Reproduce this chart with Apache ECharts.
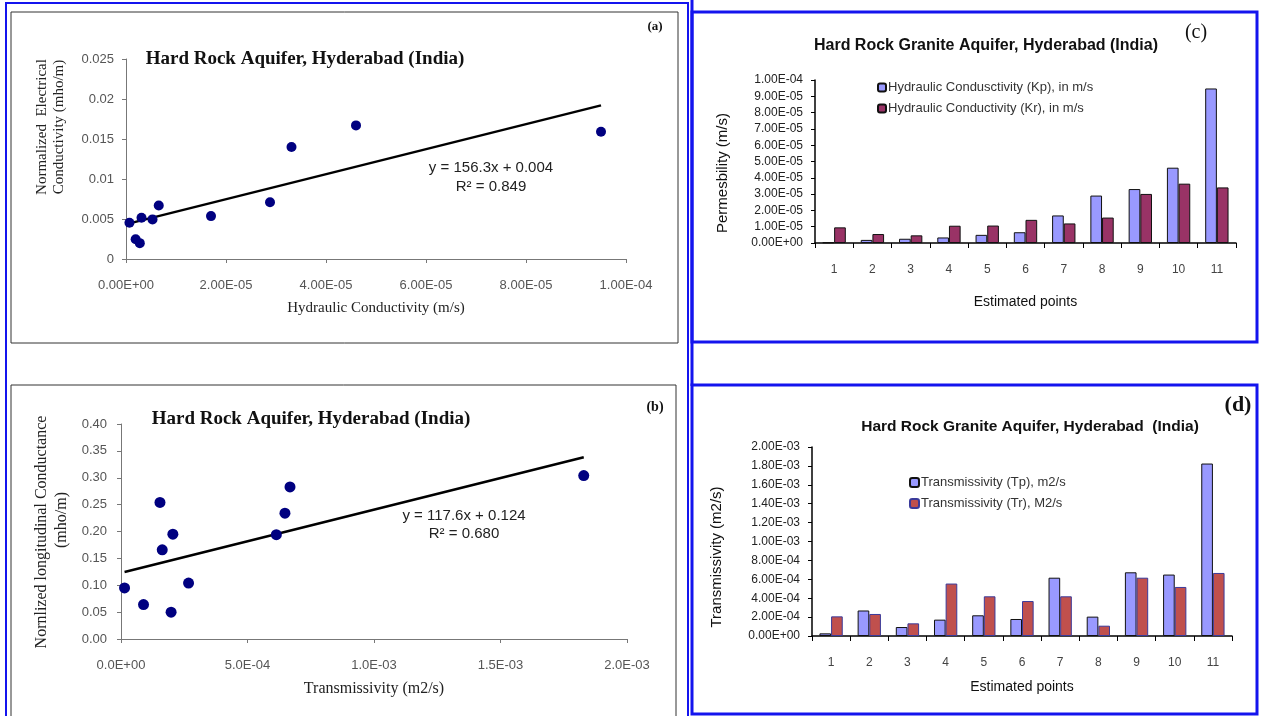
<!DOCTYPE html>
<html>
<head>
<meta charset="utf-8">
<title>Hard Rock Aquifer, Hyderabad (India)</title>
<script src="https://cdn.jsdelivr.net/npm/echarts@6/dist/echarts.min.js"></script>
<style>
    html, body { margin: 0; padding: 0; background: #fff; }
    #chart { width: 1261px; height: 716px; }
</style>
</head>
<body>
<div id="chart"></div>
<script>
// ============================================
// 数据 (a) 水力传导率 vs 归一化电导率
// ============================================
const aHydraulicK = [0.69e-6, 1.93e-6, 2.76e-6, 3.1e-6, 5.3e-6, 6.55e-6, 17.0e-6, 28.8e-6, 33.1e-6, 46.0e-6, 95.0e-6];
const aNormEC = [0.00453, 0.00247, 0.00198, 0.00515, 0.00495, 0.00668, 0.00536, 0.00709, 0.0140, 0.0167, 0.0159];
const aTrendX = [0.69e-6, 95.0e-6];
const aTrendY = [0.00445, 0.0192];
const aXTicks = ['0.00E+00', '2.00E-05', '4.00E-05', '6.00E-05', '8.00E-05', '1.00E-04'];
const aYTicks = ['0', '0.005', '0.01', '0.015', '0.02', '0.025'];

// (b) 导水系数 vs 纵向电导
const bTransmissivity = [1.4e-5, 8.9e-5, 1.54e-4, 1.63e-4, 1.98e-4, 2.05e-4, 2.67e-4, 6.14e-4, 6.48e-4, 6.68e-4, 1.829e-3];
const bLongCond = [0.095, 0.064, 0.254, 0.166, 0.050, 0.195, 0.104, 0.194, 0.234, 0.283, 0.304];
const bTrendX = [1.4e-5, 1.829e-3];
const bTrendY = [0.1245, 0.338];
const bXTicks = ['0.0E+00', '5.0E-04', '1.0E-03', '1.5E-03', '2.0E-03'];
const bYTicks = ['0.00', '0.05', '0.10', '0.15', '0.20', '0.25', '0.30', '0.35', '0.40'];

// (c) 渗透率柱状图
const points = ['1', '2', '3', '4', '5', '6', '7', '8', '9', '10', '11'];
const cKp = [0.4e-6, 1.9e-6, 2.6e-6, 3.4e-6, 5.0e-6, 6.6e-6, 1.69e-5, 2.91e-5, 3.31e-5, 4.62e-5, 9.48e-5];
const cKr = [9.6e-6, 5.5e-6, 4.7e-6, 1.06e-5, 1.07e-5, 1.42e-5, 1.2e-5, 1.56e-5, 3.01e-5, 3.64e-5, 3.41e-5];
const cYTicks = ['0.00E+00', '1.00E-05', '2.00E-05', '3.00E-05', '4.00E-05', '5.00E-05',
    '6.00E-05', '7.00E-05', '8.00E-05', '9.00E-05', '1.00E-04'];

// (d) 导水系数柱状图
const dTp = [2.8e-5, 2.7e-4, 0.95e-4, 1.73e-4, 2.19e-4, 1.8e-4, 6.17e-4, 2.05e-4, 6.74e-4, 6.5e-4, 1.825e-3];
const dTr = [2.08e-4, 2.33e-4, 1.34e-4, 5.55e-4, 4.2e-4, 3.7e-4, 4.2e-4, 1.09e-4, 6.17e-4, 5.19e-4, 6.67e-4];
const dYTicks = ['0.00E+00', '2.00E-04', '4.00E-04', '6.00E-04', '8.00E-04', '1.00E-03',
    '1.20E-03', '1.40E-03', '1.60E-03', '1.80E-03', '2.00E-03'];

const cNames = ['Hydraulic Condusctivity (Kp), in m/s', 'Hydraulic Conductivity (Kr), in m/s'];
const dNames = ['Transmissivity (Tp), m2/s', 'Transmissivity (Tr), M2/s'];

// ============================================
// 工具函数
// ============================================
const SERIF = '"Liberation Serif", "DejaVu Serif", serif';
const SANS = '"Liberation Sans", Arial, sans-serif';
const BLUE = '#1414ee';

function tickFmt(labels, step) {
    return v => labels[Math.round(v / step)] ?? '';
}

function zip(xs, ys) {
    return xs.map((x, i) => [x, ys[i]]);
}

function valueAxis(idx, min, max, step, labels, opts) {
    return Object.assign({
        type: 'value',
        gridIndex: idx,
        min: min,
        max: max,
        interval: step,
        splitLine: { show: false },
        axisLine: { show: true, lineStyle: { color: '#777', width: 1 } },
        axisTick: { show: true, length: 4, lineStyle: { color: '#777' } },
        axisLabel: { formatter: tickFmt(labels, step), color: '#555', fontFamily: SANS, fontSize: 13 }
    }, opts || {});
}

function vText(x, y, text, font, color) {
    return {
        type: 'text', x: x, y: y, rotation: Math.PI / 2, silent: true,
        style: {
            text: text, font: font, fill: color || '#222',
            align: 'center', verticalAlign: 'middle',
            textAlign: 'center', textVerticalAlign: 'middle'
        }
    };
}

function hText(x, y, text, font, color) {
    return {
        type: 'text', x: x, y: y, silent: true,
        style: {
            text: text, font: font, fill: color || '#111',
            align: 'center', verticalAlign: 'middle',
            textAlign: 'center', textVerticalAlign: 'middle'
        }
    };
}

function frame(x, y, w, h, color, lw) {
    return {
        type: 'rect', silent: true, shape: { x: x, y: y, width: w, height: h },
        style: { fill: 'none', stroke: color, lineWidth: lw }
    };
}

// ============================================
// 图表
// ============================================
const chart = echarts.init(document.getElementById('chart'));

const barAxisX = (idx, gap) => ({
    type: 'category',
    gridIndex: idx,
    data: points,
    name: 'Estimated points',
    nameLocation: 'middle',
    nameGap: gap,
    nameTextStyle: { fontFamily: SANS, fontSize: 14, color: '#111' },
    axisLine: { lineStyle: { color: '#000', width: 1.5 } },
    axisTick: { show: true, length: 5, lineStyle: { color: '#000' } },
    axisLabel: { color: '#444', fontFamily: SANS, fontSize: 12, margin: 21 }
});

const option = {
    backgroundColor: '#fff',
    animation: false,
    grid: [
        { left: 126, top: 59, width: 500, height: 200 },
        { left: 121, top: 424, width: 506, height: 215 },
        { left: 815, top: 80, width: 421, height: 163 },
        { left: 812, top: 447, width: 420, height: 189 }
    ],
    xAxis: [
        valueAxis(0, 0, 1e-4, 2e-5, aXTicks, {
            name: 'Hydraulic Conductivity (m/s)', nameLocation: 'middle', nameGap: 42,
            nameTextStyle: { fontFamily: SERIF, fontSize: 15, color: '#222' },
            axisLabel: { formatter: tickFmt(aXTicks, 2e-5), color: '#555', fontFamily: SANS, fontSize: 13, margin: 20 }
        }),
        valueAxis(1, 0, 2e-3, 5e-4, bXTicks, {
            name: 'Transmissivity (m2/s)', nameLocation: 'middle', nameGap: 42,
            nameTextStyle: { fontFamily: SERIF, fontSize: 16, color: '#222' },
            axisLabel: { formatter: tickFmt(bXTicks, 5e-4), color: '#555', fontFamily: SANS, fontSize: 13, margin: 20 }
        }),
        barAxisX(2, 52),
        barAxisX(3, 44)
    ],
    yAxis: [
        valueAxis(0, 0, 0.025, 0.005, aYTicks, {
            axisLabel: { formatter: tickFmt(aYTicks, 0.005), color: '#555', fontFamily: SANS, fontSize: 13, margin: 12 }
        }),
        valueAxis(1, 0, 0.4, 0.05, bYTicks, {
            axisLabel: { formatter: tickFmt(bYTicks, 0.05), color: '#555', fontFamily: SANS, fontSize: 13, margin: 14 }
        }),
        valueAxis(2, 0, 1e-4, 1e-5, cYTicks, {
            axisLine: { show: true, lineStyle: { color: '#000', width: 1.5 } },
            axisTick: { show: true, length: 4, lineStyle: { color: '#000' } },
            axisLabel: { formatter: tickFmt(cYTicks, 1e-5), color: '#222', fontFamily: SANS, fontSize: 12, margin: 12 }
        }),
        valueAxis(3, 0, 2e-3, 2e-4, dYTicks, {
            axisLine: { show: true, lineStyle: { color: '#000', width: 1.5 } },
            axisTick: { show: true, length: 4, lineStyle: { color: '#000' } },
            axisLabel: { formatter: tickFmt(dYTicks, 2e-4), color: '#222', fontFamily: SANS, fontSize: 12, margin: 12 }
        })
    ],
    title: [
        { text: 'Hard Rock Aquifer, Hyderabad (India)', left: 300, top: 45, textAlign: 'center',
          textStyle: { fontFamily: SERIF, fontSize: 19, fontWeight: 'bold', color: '#111' } },
        { text: 'Hard Rock Aquifer, Hyderabad (India)', left: 306, top: 405, textAlign: 'center',
          textStyle: { fontFamily: SERIF, fontSize: 19, fontWeight: 'bold', color: '#111' } },
        { text: 'Hard Rock Granite Aquifer, Hyderabad (India)', left: 981, top: 33, textAlign: 'center',
          textStyle: { fontFamily: SANS, fontSize: 16, fontWeight: 'bold', color: '#111' } },
        { text: 'Hard Rock Granite Aquifer, Hyderabad  (India)', left: 1025, top: 414, textAlign: 'center',
          textStyle: { fontFamily: SANS, fontSize: 15.5, fontWeight: 'bold', color: '#111' } }
    ],
    legend: [
        {
            data: cNames, orient: 'vertical', left: 877, top: 81,
            itemWidth: 8, itemHeight: 8, itemGap: 8, padding: 0,
            textStyle: { fontFamily: SANS, fontSize: 13, color: '#333', padding: [0, 0, 0, -3] }
        },
        {
            data: dNames, orient: 'vertical', left: 909, top: 476,
            itemWidth: 9, itemHeight: 9, itemGap: 8, padding: 0,
            textStyle: { fontFamily: SANS, fontSize: 13, color: '#333', padding: [0, 0, 0, -3] }
        }
    ],
    series: [
        {
            type: 'scatter', xAxisIndex: 0, yAxisIndex: 0, symbolSize: 10,
            itemStyle: { color: '#000080', opacity: 1 }, data: zip(aHydraulicK, aNormEC), z: 3
        },
        {
            type: 'line', xAxisIndex: 0, yAxisIndex: 0, symbol: 'none',
            lineStyle: { color: '#000', width: 2.5 }, data: zip(aTrendX, aTrendY)
        },
        {
            type: 'scatter', xAxisIndex: 1, yAxisIndex: 1, symbolSize: 11,
            itemStyle: { color: '#000080', opacity: 1 }, data: zip(bTransmissivity, bLongCond), z: 3
        },
        {
            type: 'line', xAxisIndex: 1, yAxisIndex: 1, symbol: 'none',
            lineStyle: { color: '#000', width: 2.5 }, data: zip(bTrendX, bTrendY)
        },
        {
            name: cNames[0], type: 'bar', xAxisIndex: 2, yAxisIndex: 2,
            barGap: '0%', barCategoryGap: '39%',
            itemStyle: { color: '#9999ff', borderColor: '#111', borderWidth: 1 }, data: cKp
        },
        {
            name: cNames[1], type: 'bar', xAxisIndex: 2, yAxisIndex: 2,
            barGap: '0%', barCategoryGap: '39%',
            itemStyle: { color: '#993366', borderColor: '#111', borderWidth: 1 }, data: cKr
        },
        {
            name: dNames[0], type: 'bar', xAxisIndex: 3, yAxisIndex: 3,
            barGap: '0%', barCategoryGap: '39%',
            itemStyle: { color: '#9999ff', borderColor: '#111', borderWidth: 1 }, data: dTp
        },
        {
            name: dNames[1], type: 'bar', xAxisIndex: 3, yAxisIndex: 3,
            barGap: '0%', barCategoryGap: '39%',
            itemStyle: { color: '#c0504d', borderColor: '#3a3a9a', borderWidth: 1 }, data: dTr
        }
    ],
    graphic: [
        // 外框
        frame(6, 3, 682, 720, BLUE, 2),
        frame(11, 12, 667, 331, '#333', 1),
        frame(11, 385, 665, 340, '#333', 1),
        { type: 'line', silent: true, shape: { x1: 692, y1: 0, x2: 692, y2: 386 }, style: { stroke: BLUE, lineWidth: 3 } },
        frame(692, 12, 565, 330, BLUE, 3),
        frame(692, 385, 565, 329, BLUE, 3),
        // 面板标签
        hText(655, 27, '(a)', 'bold 13px ' + SERIF),
        hText(655, 407, '(b)', 'bold 14px ' + SERIF),
        hText(1196, 33, '(c)', '20px ' + SERIF),
        hText(1238, 405, '(d)', 'bold 22px ' + SERIF),
        // 回归方程
        hText(491, 168, 'y = 156.3x + 0.004', '15px ' + SANS, '#222'),
        hText(491, 187, 'R² = 0.849', '15px ' + SANS, '#222'),
        hText(464, 516, 'y = 117.6x + 0.124', '15px ' + SANS, '#222'),
        hText(464, 534, 'R² = 0.680', '15px ' + SANS, '#222'),
        // 纵轴名称
        vText(42, 127, 'Normalized  Electrical', '15px ' + SERIF),
        vText(59, 127, 'Conductivity (mho/m)', '15px ' + SERIF),
        vText(42, 532, 'Nornlized longitudinal Conductance', '16px ' + SERIF),
        vText(62, 520, '(mho/m)', '16px ' + SERIF),
        vText(723, 173, 'Permesbility (m/s)', '15px ' + SANS, '#111'),
        vText(717, 557, 'Transmissivity (m2/s)', '15px ' + SANS, '#111')
    ]
};

chart.setOption(option);
</script>
</body>
</html>
